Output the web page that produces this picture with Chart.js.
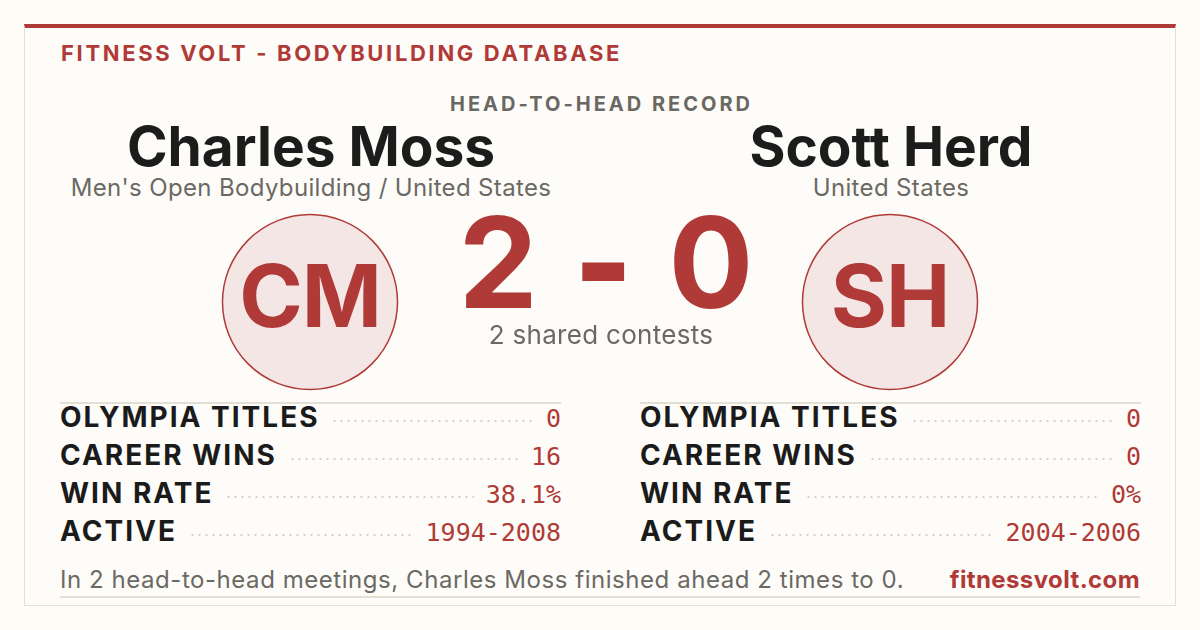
<!DOCTYPE html>
<html>
<head>
<meta charset="utf-8">
<script src="https://cdn.jsdelivr.net/npm/chart.js@4.4.1/dist/chart.umd.min.js"></script>
<style>
  html, body { margin: 0; padding: 0; }
  body { width: 1200px; height: 630px; background: #fcfbf6; font-family: Inter, "DejaVu Sans", sans-serif; position: relative; overflow: hidden; }
  .card { position: absolute; left: 24px; top: 24px; width: 1150px; height: 577px; border: 1px solid #e4e0d7; border-top: 4px solid #b03a37; background: #fdfcf8; }
  .abs { position: absolute; white-space: nowrap; line-height: 1; }
  .brand { left: 61px; top: 42px; font-size: 22px; font-weight: 700; letter-spacing: 2.65px; color: #b03a37; }
  .h2h { left: 0; width: 1203px; text-align: center; top: 94px; font-size: 20px; font-weight: 700; letter-spacing: 3px; color: #6a6862; }
  .name { width: 600px; text-align: center; top: 123px; font-size: 55px; font-weight: 700; color: #1c1c1c; line-height: 0.85; }
  .sub { width: 600px; text-align: center; top: 177px; font-size: 24px; color: #6b6963; letter-spacing: 0.35px; line-height: 0.9; }
  .avatar { position: absolute; width: 184px; height: 184px; }
  .initials { width: 184px; text-align: center; font-size: 86px; font-weight: 700; color: #b03a37; letter-spacing: -1px; line-height: 0.8; }
  .score { left: 0; width: 1212px; text-align: center; top: 209px; font-size: 126px; font-weight: 700; color: #b03a37; line-height: 0.85; }
  .score .dash { display: inline-block; transform: scaleY(1.25); margin: 0 6px; }
  .shared { left: 0; width: 1202px; text-align: center; top: 323px; font-size: 26px; color: #6b6963; letter-spacing: 0.3px; line-height: 0.9; }
  .stats { position: absolute; top: 402px; width: 501px; border-top: 2px solid #e4dfd5; }
  .stats .inner { margin-top: -6px; }
  .row { display: flex; align-items: baseline; height: 38px; }
  .row .lab { font-size: 28px; font-weight: 700; color: #1b1b1b; letter-spacing: 2px; line-height: 38px; }
  .row .dots { flex: 1; margin: 0 12px; height: 2px; align-self: flex-end; margin-bottom: 14px;
    background-image: radial-gradient(circle, #d4cfc6 1px, transparent 1.2px); background-size: 7px 2px; background-repeat: repeat-x; }
  .row .val { font-family: "DejaVu Sans Mono", "Liberation Mono", monospace; font-size: 25px; color: #b03a37; line-height: 38px; }
  .foot { left: 60px; top: 569px; font-size: 24px; color: #6b6963; letter-spacing: 0.55px; line-height: 0.9; }
  .site { right: 60px; top: 569px; font-size: 24px; font-weight: 700; color: #b03a37; letter-spacing: 0.4px; line-height: 0.9; }
  .rule { position: absolute; left: 60px; top: 596px; width: 1080px; height: 2px; background: #e4dfd5; }
</style>
</head>
<body>
<div class="card"></div>
<div class="abs brand">FITNESS VOLT - BODYBUILDING DATABASE</div>
<div class="abs h2h">HEAD-TO-HEAD RECORD</div>
<div id="people"></div>
<div class="abs score" id="score"><span id="sLeft"></span> <span class="dash">-</span> <span id="sRight"></span></div>
<div class="abs shared" id="shared"></div>
<div id="statBlocks"></div>
<div class="abs foot" id="foot"></div>
<div class="abs site">fitnessvolt.com</div>
<div class="rule"></div>

<script>
// fighters, left then right
const names = ["Charles Moss", "Scott Herd"];
const subtitles = ["Men's Open Bodybuilding / United States", "United States"];
const initials = ["CM", "SH"];
const wins = [2, 0];
const sharedContests = 2;

// stat table
const statLabels = ["OLYMPIA TITLES", "CAREER WINS", "WIN RATE", "ACTIVE"];
const statsLeft = ["0", "16", "38.1%", "1994-2008"];
const statsRight = ["0", "0", "0%", "2004-2006"];

const colCenters = [311, 891];
const red = "#b03a37";

let people = document.getElementById('people');
for (let i = 0; i < names.length; i++) {
  let n = document.createElement('div');
  n.className = 'abs name';
  n.style.left = (colCenters[i] - 300) + 'px';
  n.innerText = names[i];
  people.appendChild(n);

  let s = document.createElement('div');
  s.className = 'abs sub';
  s.style.left = (colCenters[i] - 300) + 'px';
  s.innerText = subtitles[i];
  people.appendChild(s);

  // avatar circle: a single bubble in the middle of a hidden scale
  let wrap = document.createElement('div');
  wrap.className = 'avatar';
  wrap.style.left = (colCenters[i] - 1 - 92) + 'px';
  wrap.style.top = (302 - 92) + 'px';
  let cv = document.createElement('canvas');
  cv.width = 184; cv.height = 184;
  wrap.appendChild(cv);
  people.appendChild(wrap);
  new Chart(cv, {
    type: "bubble",
    data: {
      datasets: [{
        label: names[i],
        data: [{ x: 0, y: 0, r: 87.5 }],
        backgroundColor: "#f3e6e5",
        borderColor: red,
        borderWidth: 1.5,
        clip: false
      }]
    },
    options: {
      responsive: false,
      animation: false,
      layout: { padding: 0 },
      scales: {
        x: { display: false, min: -1, max: 1 },
        y: { display: false, min: -1, max: 1 }
      },
      plugins: { legend: { display: false }, tooltip: { enabled: false } }
    }
  });

  let ini = document.createElement('div');
  ini.className = 'abs initials';
  ini.style.left = (colCenters[i] - 1 - 92) + 'px';
  ini.style.top = '262px';
  ini.innerText = initials[i];
  people.appendChild(ini);
}

document.getElementById('sLeft').innerText = wins[0];
document.getElementById('sRight').innerText = wins[1];
document.getElementById('shared').innerText = sharedContests + " shared contests";
document.getElementById('foot').innerText = "In " + sharedContests + " head-to-head meetings, " + names[0] +
  " finished ahead " + wins[0] + " times to " + wins[1] + ".";

let blocks = document.getElementById('statBlocks');
[statsLeft, statsRight].forEach((vals, k) => {
  let box = document.createElement('div');
  box.className = 'stats';
  box.style.left = (k == 0 ? 60 : 640) + 'px';
  let inner = document.createElement('div');
  inner.className = 'inner';
  for (let j = 0; j < statLabels.length; j++) {
    let row = document.createElement('div');
    row.className = 'row';
    row.innerHTML = '<span class="lab"></span><span class="dots"></span><span class="val"></span>';
    row.querySelector('.lab').innerText = statLabels[j];
    row.querySelector('.val').innerText = vals[j];
    inner.appendChild(row);
  }
  box.appendChild(inner);
  blocks.appendChild(box);
});
</script>
</body>
</html>
